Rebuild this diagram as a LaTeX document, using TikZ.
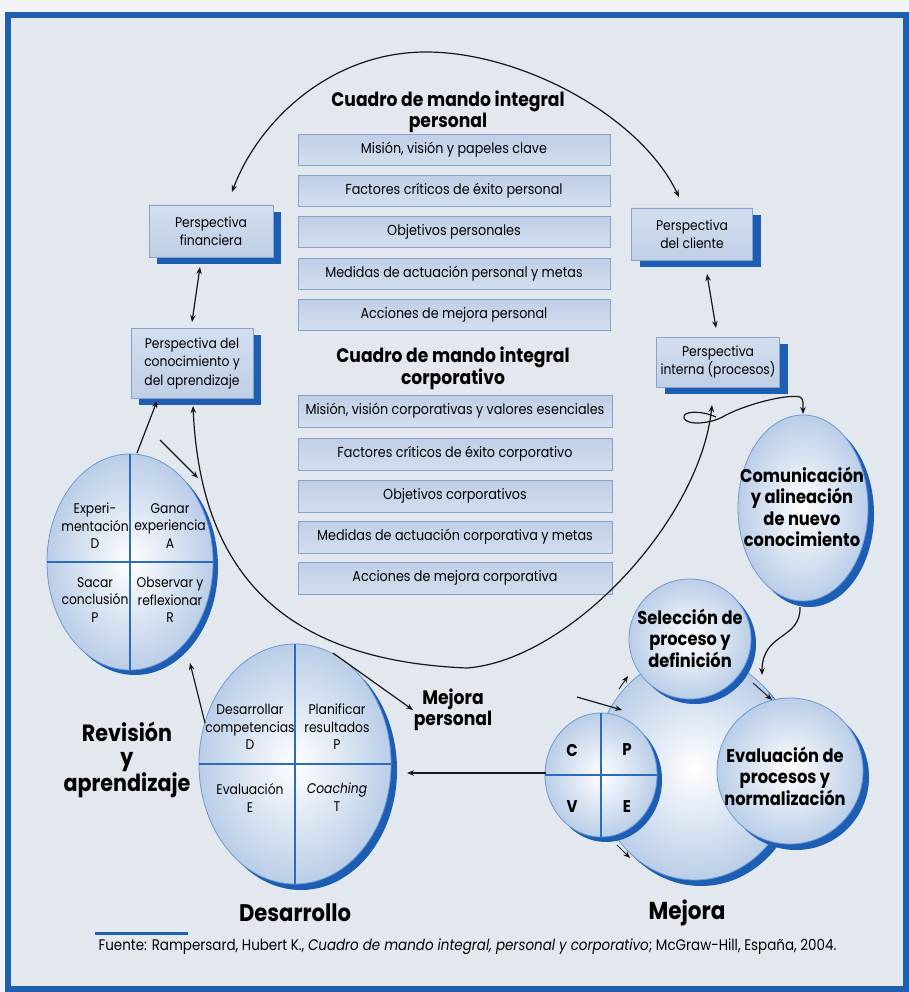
\documentclass[tikz,border=0pt]{standalone}
\usepackage{fontspec}
\setmainfont{Poppins}[FakeStretch=0.88]
\usetikzlibrary{arrows.meta,shapes.geometric,shadows}

\definecolor{outerbg}{HTML}{F2F3F5}
\definecolor{pagebg}{HTML}{E3E8EF}
\definecolor{framebl}{HTML}{1E5FAF}
\definecolor{boxtop}{HTML}{BFCFE6}
\definecolor{boxbot}{HTML}{D3DFEF}
\definecolor{boxline}{HTML}{86A3CC}
\definecolor{shadowbl}{HTML}{1D5EB4}
\definecolor{ellout}{HTML}{BACEE8}
\definecolor{ellline}{HTML}{6A9AD6}
\definecolor{quadline}{HTML}{2D6BBE}
\definecolor{ink}{HTML}{161616}

\begin{document}
\begin{tikzpicture}[x=1pt,y=-1pt,
  stackbox/.style={draw=boxline, line width=0.8pt, top color=boxtop, bottom color=boxbot,
    minimum height=31pt, inner sep=0pt, font=\fontsize{14.5}{16}\selectfont},
  perspbox/.style={draw=boxline, line width=0.8pt, top color=boxbot, bottom color=boxtop,
    inner sep=0pt, align=center, font=\fontsize{14}{18.5}\selectfont,
    drop shadow={shadow xshift=8pt, shadow yshift=-7pt, fill=shadowbl, opacity=1}},
  oval/.style={ellipse, draw=ellline, line width=0.8pt, inner color=white, outer color=ellout,
    inner sep=0pt},
  ovalshadow/.style={drop shadow={shadow xshift=#1pt, shadow yshift=-#1pt, fill=shadowbl, opacity=1}},
  quad/.style={draw=quadline, line width=1.1pt},
  smalltxt/.style={align=center, font=\fontsize{14}{17.5}\selectfont},
  boldlbl/.style={align=center, font=\bfseries\fontsize{18.5}{21.5}\selectfont},
  biglbl/.style={align=center, font=\bfseries\fontsize{23.5}{24.5}\selectfont},
  conn/.style={draw=ink, line width=1.2pt, -{Stealth[length=7pt,width=5.5pt]}},
  bothconn/.style={draw=ink, line width=1.2pt, {Stealth[length=7pt,width=5.5pt]}-{Stealth[length=7pt,width=5.5pt]}}
]
\path[use as bounding box] (0,0) rectangle (909,992);
\fill[outerbg] (0,0) rectangle (909,992);
\fill[pagebg] (8,15) rectangle (905,989);
\draw[framebl, line width=6pt] (8,15) rectangle (905.5,989);

% ---------- personal scorecard ----------
\node[boldlbl, font=\bfseries\fontsize{19.5}{20.5}\selectfont] (ptitle) at (448,112) {Cuadro de mando integral\\personal};
\node[stackbox, minimum width=312pt] (p1) at (454,150) {Misión, visión y papeles clave};
\node[stackbox, minimum width=312pt] (p2) at (454,191) {Factores críticos de éxito personal};
\node[stackbox, minimum width=312pt] (p3) at (454,232) {Objetivos personales};
\node[stackbox, minimum width=312pt] (p4) at (454,274) {Medidas de actuación personal y metas};
\node[stackbox, minimum width=312pt] (p5) at (454,315) {Acciones de mejora personal};

% ---------- corporate scorecard ----------
\node[boldlbl, font=\bfseries\fontsize{19.5}{20.5}\selectfont] (ctitle) at (453,368) {Cuadro de mando integral\\corporativo};
\node[stackbox, minimum width=314pt, minimum height=32pt] (c1) at (455,411) {Misión, visión corporativas y valores esenciales};
\node[stackbox, minimum width=314pt, minimum height=32pt] (c2) at (455,454) {Factores críticos de éxito corporativo};
\node[stackbox, minimum width=314pt, minimum height=32pt] (c3) at (455,496) {Objetivos corporativos};
\node[stackbox, minimum width=314pt, minimum height=32pt] (c4) at (455,537) {Medidas de actuación corporativa y metas};
\node[stackbox, minimum width=314pt, minimum height=32pt] (c5) at (455,578) {Acciones de mejora corporativa};

% ---------- perspectives ----------
\node[perspbox, minimum width=124pt, minimum height=52pt] (pf) at (211,231) {Perspectiva\\financiera};
\node[perspbox, minimum width=121pt, minimum height=52pt] (pc) at (692,234) {Perspectiva\\del cliente};
\node[perspbox, minimum width=122pt, minimum height=70pt] (pk) at (192,363) {Perspectiva del\\conocimiento y\\del aprendizaje};
\node[perspbox, minimum width=123pt, minimum height=50pt] (pi) at (718,362) {Perspectiva\\interna (procesos)};

% top arc linking the two upper perspectives
\coordinate (ta) at (232,192);
\coordinate (tb) at (679,197);
\coordinate (tm) at (426,52);
\draw[bothconn] (ta) .. controls (258,122) and (330,52) .. (tm) .. controls (520,52) and (640,115) .. (tb);

% vertical double arrows
\coordinate (fa) at (200,267);
\coordinate (fb) at (192,322);
\draw[bothconn] (fa) -- (fb);
\coordinate (ca) at (707,274);
\coordinate (cb) at (716,328);
\draw[bothconn] (ca) -- (cb);

% ---------- learning cycle ----------
\node[oval, ovalshadow=5, minimum width=166pt, minimum height=216pt] (L) at (130,562) {};
\draw[quad] (L.north) -- (L.south);
\draw[quad] (L.west) -- (L.east);
\node[smalltxt] (l1) at (95,526) {Experi-\\mentación\\D};
\node[smalltxt] (l2) at (170,526) {Ganar\\experiencia\\A};
\node[smalltxt] (l3) at (95,600) {Sacar\\conclusión\\P};
\node[smalltxt] (l4) at (170,600) {Observar y\\reflexionar\\R};

% ---------- development cycle ----------
\node[oval, ovalshadow=6, minimum width=192pt, minimum height=240pt] (D) at (295,764) {};
\draw[quad] (D.north) -- (D.south);
\draw[quad] (D.west) -- (D.east);
\node[smalltxt] (d1) at (250,727) {Desarrollar\\competencias\\D};
\node[smalltxt] (d2) at (337,727) {Planificar\\resultados\\P};
\node[smalltxt] (d3) at (250,798) {Evaluación\\E};
\node[smalltxt] (d4) at (337,797) {\textit{Coaching}\\T};

\node[biglbl] (rev) at (127,760) {Revisión\\y\\aprendizaje};
\node[boldlbl, font=\bfseries\fontsize{19.5}{21}\selectfont] (mp) at (453,710) {Mejora\\personal};
\node[biglbl, font=\bfseries\fontsize{24}{24}\selectfont] (des) at (295,913) {Desarrollo};

% ---------- improvement cycle ----------
\node[oval, ovalshadow=6, minimum width=200pt, minimum height=224pt] (B) at (695,768) {};
\node[oval, ovalshadow=5, minimum width=112pt, minimum height=124pt] (M) at (601,775) {};
\draw[quad] (M.north) -- (M.south);
\draw[quad] (M.west) -- (M.east);
\node[font=\bfseries\fontsize{17}{18}\selectfont] (mc) at (572,750) {C};
\node[font=\bfseries\fontsize{17}{18}\selectfont] (mpp) at (627,750) {P};
\node[font=\bfseries\fontsize{17}{18}\selectfont] (mv) at (572,807) {V};
\node[font=\bfseries\fontsize{17}{18}\selectfont] (me) at (627,807) {E};

\node[oval, ovalshadow=5, minimum width=122pt, minimum height=120pt] (S) at (690,639) {};
\node[boldlbl] (st) at (690,638) {Selección de\\proceso y\\definición};
\node[oval, ovalshadow=6, minimum width=146pt, minimum height=146pt] (E) at (790,771) {};
\node[boldlbl] (et) at (785,776) {Evaluación de\\procesos y\\normalización};
\node[oval, ovalshadow=6, minimum width=130pt, minimum height=186pt] (C) at (803,508) {};
\node[boldlbl] (ct) at (802,507) {Comunicación\\y alineación\\de nuevo\\conocimiento};

\node[biglbl, font=\bfseries\fontsize{24.5}{25}\selectfont] (mej) at (687,913) {Mejora};

% ---------- large U connector between the two lower perspectives ----------
\coordinate (ua) at (193,406);
\coordinate (ub) at (467,668);
\coordinate (uc) at (712,405);
\draw[bothconn] (ua) .. controls (200,560) and (270,660) .. (ub) .. controls (570,660) and (700,520) .. (uc);

% looped connector towards the communication step
\coordinate (lp) at (716,417);
\coordinate (lq) at (803,414);
\draw[conn] (lp) .. controls (700,410) and (682,411) .. (684,418) .. controls (687,426) and (712,424) .. (726,415) .. controls (752,402) and (790,394) .. (800,397) .. controls (804,399) and (803,405) .. (lq);

% learning cycle <-> knowledge perspective
\coordinate (k1) at (137,453);
\coordinate (k2) at (157,401);
\draw[conn] (k1) -- (k2);
\coordinate (k3) at (160,440);
\coordinate (k4) at (198,478);
\draw[conn] (k3) -- (k4);

% development cycle links
\coordinate (d5) at (205,723);
\coordinate (d6) at (190,663);
\draw[conn] (d5) -- (d6);
\coordinate (d7) at (333,653);
\coordinate (d8) at (413,710);
\draw[conn] (d7) -- (d8);
\coordinate (d9) at (546,773);
\coordinate (d10) at (407,773);
\draw[conn] (d9) -- (d10);

% improvement cycle links
\coordinate (m1) at (577,697);
\coordinate (m2) at (622,710);
\draw[conn] (m1) -- (m2);
\coordinate (m3) at (800,607);
\coordinate (m4) at (762,675);
\draw[conn] (m3) .. controls (801,640) and (762,632) .. (m4);
\coordinate (m5) at (619,689);
\coordinate (m6) at (628,676);
\draw[conn, line width=0.9pt] (m5) -- (m6);
\coordinate (m7) at (753,683);
\coordinate (m8) at (772,700);
\draw[conn, line width=0.9pt] (m7) -- (m8);
\coordinate (m9) at (617,845);
\coordinate (m10) at (630,858);
\draw[conn, line width=0.9pt] (m9) -- (m10);

% ---------- source line ----------
\draw[framebl, line width=3pt] (95,933) -- (188,933);
\node[anchor=west, font=\fontsize{15.3}{17}\selectfont] (src) at (95,947) {Fuente: Rampersard, Hubert K., \textit{Cuadro de mando integral, personal y corporativo}; McGraw-Hill, España, 2004.};
\end{tikzpicture}
\end{document}
